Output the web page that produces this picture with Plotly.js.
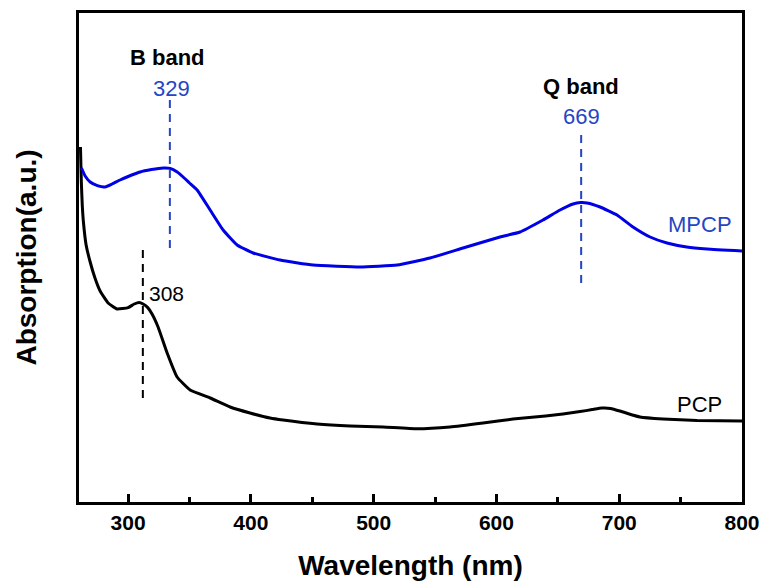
<!DOCTYPE html>
<html>
<head>
<meta charset="utf-8">
<script src="https://cdn.plot.ly/plotly-3.0.1.min.js"></script>
<style>html,body{margin:0;padding:0;background:#fff;}#chart{width:763px;height:585px;}</style>
</head>
<body>
<div id="chart"></div>
<script>
// PCP (black) spectrum
const pcpWavelength = [261.2, 261.9, 262.7, 263.6, 265.8, 269.1, 273.0, 277.2, 283.7, 291.0, 300.0, 305.0, 309.0, 312.2, 316.0, 319.5, 324.4, 331.8, 339.9, 350.5, 366.8, 383.1, 399.3, 415.6, 426.2, 453.9, 480.8, 507.7, 535.3, 562.2, 589.1, 613.5, 640.0, 654.2, 668.1, 678.0, 686.0, 693.0, 703.1, 716.9, 735.7, 763.4, 800.0];
const pcpAbs = [1.775, 1.60, 1.48, 1.40, 1.285, 1.20, 1.12, 1.055, 0.995, 0.965, 0.972, 0.99, 0.998, 0.99, 0.972, 0.94, 0.875, 0.745, 0.625, 0.56, 0.52, 0.475, 0.445, 0.42, 0.41, 0.39, 0.38, 0.375, 0.366, 0.375, 0.395, 0.415, 0.43, 0.44, 0.452, 0.462, 0.47, 0.468, 0.45, 0.425, 0.415, 0.408, 0.405];

// MPCP (blue) spectrum
const mpcpWavelength = [262.0, 265.0, 269.1, 275.0, 281.3, 287.0, 293.5, 301.0, 309.8, 319.0, 328.5, 334.2, 340.0, 344.8, 350.0, 356.2, 366.8, 377.4, 388.8, 401.8, 423.8, 450.7, 488.9, 519.1, 545.9, 572.8, 602.9, 619.2, 637.9, 651.8, 662.4, 668.5, 673.8, 684.4, 698.2, 711.2, 725.1, 738.9, 755.0, 771.5, 800.0];
const mpcpAbs = [1.67, 1.63, 1.60, 1.582, 1.575, 1.59, 1.61, 1.63, 1.65, 1.662, 1.67, 1.668, 1.65, 1.625, 1.595, 1.56, 1.46, 1.36, 1.285, 1.245, 1.21, 1.185, 1.175, 1.185, 1.22, 1.27, 1.325, 1.35, 1.41, 1.46, 1.49, 1.497, 1.495, 1.475, 1.435, 1.375, 1.325, 1.295, 1.275, 1.265, 1.255];

// Peak marker dashed lines: x position, top and bottom
const bBandLine = {x: [334, 334], y: [2.01, 1.25]};
const qBandLine = {x: [669, 669], y: [1.835, 1.07]};
const pcpPeakLine = {x: [312, 312], y: [1.26, 0.51]};

const xTickVals = [300, 400, 500, 600, 700, 800];
const xTickText = ['300', '400', '500', '600', '700', '800'];

const blue = '#0000e6';
const textBlue = '#2545c4';
const font = 'Liberation Sans, Arial, Helvetica, sans-serif';

const traces = [
  {x: pcpWavelength, y: pcpAbs, mode: 'lines', line: {color: '#000', width: 3, shape: 'spline', smoothing: 0.4}, name: 'PCP'},
  {x: mpcpWavelength, y: mpcpAbs, mode: 'lines', line: {color: blue, width: 3, shape: 'spline', smoothing: 0.4}, name: 'MPCP'},
  {x: bBandLine.x, y: bBandLine.y, mode: 'lines', line: {color: textBlue, width: 2, dash: '8px,6px'}},
  {x: qBandLine.x, y: qBandLine.y, mode: 'lines', line: {color: textBlue, width: 2, dash: '8px,6px'}},
  {x: pcpPeakLine.x, y: pcpPeakLine.y, mode: 'lines', line: {color: '#000', width: 2, dash: '8px,6px'}}
];

const ann = (x, y, text, color, size, weight, xanchor) => ({
  x, y, text, showarrow: false, xref: 'x', yref: 'y', xanchor: xanchor || 'center', yanchor: 'middle',
  font: {family: font, size, color, weight: weight || 'normal'}
});

const layout = {
  width: 763, height: 585,
  margin: {l: 79, r: 21, t: 13, b: 83},
  paper_bgcolor: '#fff', plot_bgcolor: '#fff',
  showlegend: false,
  xaxis: {
    range: [260, 800], showgrid: false, zeroline: false,
    showline: true, mirror: true, linecolor: '#000', linewidth: 3,
    ticks: 'inside', ticklen: 8, tickwidth: 3, tickcolor: '#000',
    tickvals: xTickVals, ticktext: xTickText,
    minor: {dtick: 50, tick0: 300, ticks: 'inside', ticklen: 5, tickwidth: 3, tickcolor: '#000'},
    tickfont: {family: font, size: 21, color: '#000', weight: 'bold'},
    title: {text: 'Wavelength (nm)', font: {family: font, size: 28, color: '#000', weight: 'bold'}, standoff: 23}
  },
  yaxis: {
    range: [0, 2.445], showgrid: false, zeroline: false,
    showline: true, mirror: true, linecolor: '#000', linewidth: 3,
    ticks: '', showticklabels: false,
    title: {text: 'Absorption(a.u.)', font: {family: font, size: 28, color: '#000', weight: 'bold'}, standoff: 32}
  },
  annotations: [
    ann(331.8, 2.225, 'B band', '#000', 22, 'bold'),
    ann(335, 2.07, '329', textBlue, 22),
    ann(669, 2.08, 'Q band', '#000', 22, 'bold'),
    ann(669, 1.93, '669', textBlue, 22),
    ann(765.8, 1.39, 'MPCP', textBlue, 22),
    ann(765.5, 0.49, 'PCP', '#000', 22),
    ann(315, 1.045, '308', '#000', 21, 'normal', 'left')
  ]
};

Plotly.newPlot('chart', traces, layout, {staticPlot: true, displayModeBar: false});
</script>
</body>
</html>
